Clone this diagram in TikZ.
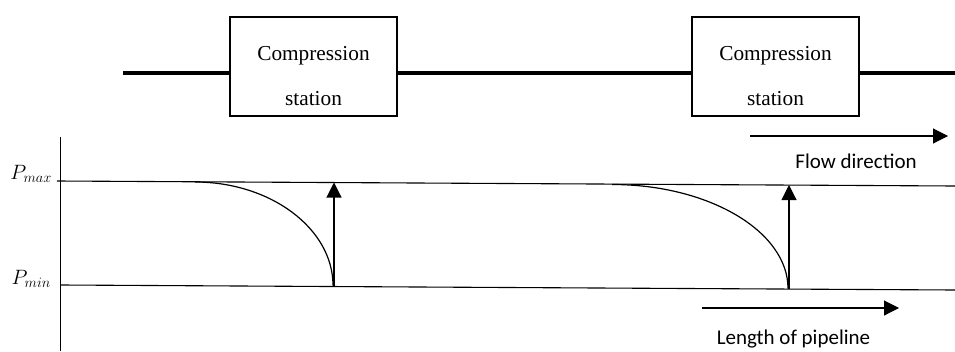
\documentclass[tikz,border=0pt]{standalone}
\usepackage{fontspec}
\setmainfont{Liberation Serif}
\newfontfamily\labelfont{Carlito}
\usetikzlibrary{arrows.meta}

\tikzset{
  pipe/.style={line width=4.8pt},
  station/.style={draw, line width=1.8pt, minimum width=167pt, minimum height=99pt, inner sep=0pt},
  stationtext/.style={font=\fontsize{21.3}{24}\selectfont, anchor=base, inner sep=0pt},
  level/.style={line width=1.1pt},
  axis/.style={line width=1pt},
  drop/.style={line width=1.2pt},
  boost/.style={line width=1.1pt, -{Triangle[length=15pt,width=15pt]}},
  dirarrow/.style={line width=1.1pt, -{Triangle[length=15pt,width=15pt]}},
  caption/.style={font=\labelfont\fontsize{21}{24}\selectfont, anchor=base, inner sep=0pt},
  plabel/.style={font=\fontsize{20.5}{24}\selectfont, anchor=base east, inner sep=0pt}
}

\begin{document}
\begin{tikzpicture}[x=1pt, y=-1pt]
  \useasboundingbox (0,0) rectangle (955,351);

  % pipeline with two compression stations
  \node[station] (st1) at (313.5,66.5) {};
  \node[station] (st2) at (775.5,66.5) {};
  \node[stationtext] (st1a) at (313.5,60) {Compression};
  \node[stationtext] (st1b) at (313.5,105) {station};
  \node[stationtext] (st2a) at (775.5,60) {Compression};
  \node[stationtext] (st2b) at (775.5,105) {station};
  \coordinate (pin) at (123,73);
  \coordinate (pout) at (955,73);
  \draw[pipe] (pin) -- (st1.west |- pin);
  \draw[pipe] (st1.east |- pin) -- (st2.west |- pin);
  \draw[pipe] (st2.east |- pin) -- (pout);

  % flow direction
  \coordinate (f0) at (750,136);
  \coordinate (f1) at (948,136);
  \draw[dirarrow] (f0) -- (f1);
  \node[caption] (flow) at (856,168) {Flow direction};

  % pressure axis and limits
  \coordinate (ax0) at (60,137);
  \coordinate (ax1) at (60,351);
  \draw[axis] (ax0) -- (ax1);
  \coordinate (pmax0) at (57,181);
  \coordinate (pmax1) at (955,186);
  \coordinate (pmin0) at (61,285);
  \coordinate (pmin1) at (955,290);
  \draw[level] (pmax0) -- (pmax1);
  \draw[level] (pmin0) -- (pmin1);
  \node[plabel] (lmax) at (52,179) {$P_{max}$};
  \node[plabel] (lmin) at (51,284) {$P_{min}$};

  % pressure drop along each section, then recompression
  \coordinate (d1s) at (195,182);
  \coordinate (d1e) at (333,285.5);
  \draw[drop] (d1s) .. controls (270.6,182) and (333,228.6) .. (d1e);
  \coordinate (r1t) at (334,182.5);
  \draw[boost] (d1e -| r1t) -- (r1t);

  \coordinate (d2s) at (612,184.5);
  \coordinate (d2e) at (788,288.5);
  \draw[drop] (d2s) .. controls (709.2,184.5) and (788,231.6) .. (d2e);
  \coordinate (r2t) at (789,185);
  \draw[boost] (d2e -| r2t) -- (r2t);

  % length of pipeline
  \coordinate (l0) at (702,308);
  \coordinate (l1) at (899,308);
  \draw[dirarrow] (l0) -- (l1);
  \node[caption] (len) at (793.5,344) {Length of pipeline};
\end{tikzpicture}
\end{document}
